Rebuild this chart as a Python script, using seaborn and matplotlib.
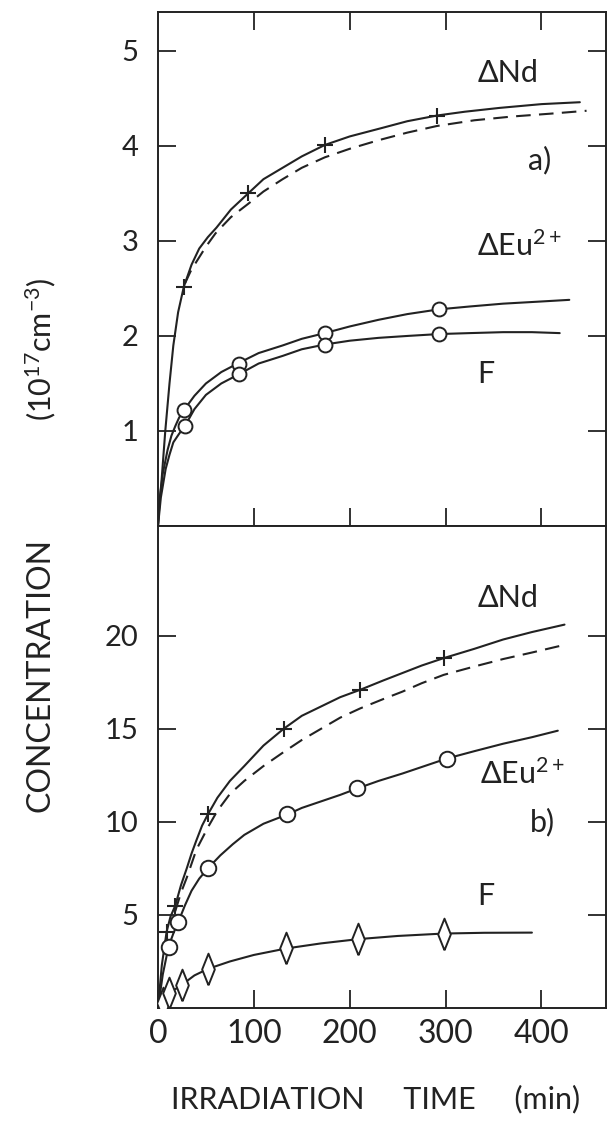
import matplotlib
matplotlib.use("Agg")
import matplotlib.pyplot as plt
import seaborn as sns

# ---- data ----
# panel a) measured points (time in min, concentration in 1e17 cm^-3)
a_nd_t = [27, 94, 174, 291]
a_nd_c = [2.52, 3.50, 4.01, 4.32]
a_eu_t = [27, 85, 174, 293]
a_eu_c = [1.22, 1.71, 2.03, 2.28]
a_f_t = [28, 85, 174, 293]
a_f_c = [1.05, 1.60, 1.91, 2.02]

# panel a) drawn curves
a_nd_line_t = [0, 1.5, 3.5, 7.6, 12, 16, 21, 27, 35, 43, 52, 61, 76, 94, 110, 130, 150, 174, 200, 234, 260, 291, 320, 356, 400, 440]
a_nd_line_c = [0, 0.25, 0.45, 1.0, 1.5, 1.9, 2.25, 2.52, 2.75, 2.92, 3.04, 3.14, 3.33, 3.50, 3.65, 3.77, 3.89, 4.01, 4.10, 4.19, 4.26, 4.32, 4.36, 4.40, 4.44, 4.46]
a_nd_dash_t = [28, 34, 40, 50, 60, 76, 94, 110, 130, 150, 174, 200, 230, 260, 291, 330, 370, 410, 447]
a_nd_dash_c = [2.55, 2.68, 2.78, 2.94, 3.08, 3.25, 3.39, 3.52, 3.65, 3.77, 3.88, 3.97, 4.06, 4.14, 4.21, 4.27, 4.31, 4.34, 4.37]
a_eu_line_t = [0, 2, 5, 10, 14, 18, 22, 27, 38, 50, 66, 85, 105, 130, 150, 174, 200, 230, 260, 293, 325, 360, 395, 429]
a_eu_line_c = [0, 0.3, 0.55, 0.8, 0.95, 1.05, 1.14, 1.22, 1.37, 1.5, 1.62, 1.72, 1.82, 1.9, 1.97, 2.03, 2.10, 2.17, 2.23, 2.28, 2.31, 2.34, 2.36, 2.38]
a_f_line_t = [0, 3, 8, 12, 16, 22, 28, 38, 50, 66, 85, 105, 130, 150, 174, 200, 230, 260, 293, 325, 360, 390, 419]
a_f_line_c = [0, 0.3, 0.6, 0.75, 0.88, 0.97, 1.05, 1.23, 1.38, 1.50, 1.60, 1.71, 1.79, 1.86, 1.91, 1.95, 1.98, 2.00, 2.02, 2.03, 2.04, 2.04, 2.03]

# panel b) measured points
b_nd_t = [9, 18, 52, 131, 211, 298]
b_nd_c = [4.1, 5.5, 10.4, 15.0, 17.1, 18.8]
b_eu_t = [11, 21, 52, 135, 208, 301]
b_eu_c = [3.3, 4.6, 7.5, 10.4, 11.8, 13.4]
b_f_t = [5, 12, 25, 52, 134, 209, 298]
b_f_c = [0.25, 0.8, 1.25, 2.1, 3.2, 3.7, 4.0]

# panel b) drawn curves
b_nd_line_t = [0, 4, 9, 13, 18, 24, 30, 35, 40, 46, 52, 62, 75, 90, 110, 131, 150, 170, 190, 211, 235, 255, 275, 298, 330, 360, 390, 424]
b_nd_line_c = [0, 2.3, 4.1, 4.9, 5.5, 6.6, 7.5, 8.3, 9.0, 9.8, 10.4, 11.3, 12.2, 13.0, 14.1, 15.0, 15.7, 16.2, 16.7, 17.1, 17.6, 18.0, 18.4, 18.8, 19.3, 19.8, 20.2, 20.6]
b_nd_dash_t = [18, 24, 30, 40, 52, 62, 75, 90, 110, 131, 150, 170, 190, 211, 235, 255, 275, 298, 330, 360, 390, 423]
b_nd_dash_c = [5.2, 6.2, 7.0, 8.5, 9.7, 10.6, 11.5, 12.2, 13.0, 13.75, 14.4, 15.0, 15.6, 16.1, 16.6, 17.0, 17.45, 17.9, 18.35, 18.75, 19.1, 19.5]
b_eu_line_t = [0, 5, 11, 16, 21, 28, 35, 43, 52, 65, 78, 90, 110, 135, 150, 170, 190, 208, 230, 255, 278, 301, 330, 360, 390, 417]
b_eu_line_c = [0, 1.8, 3.3, 4.0, 4.6, 5.5, 6.3, 6.95, 7.5, 8.2, 8.8, 9.3, 9.9, 10.4, 10.75, 11.1, 11.45, 11.8, 12.2, 12.6, 13.0, 13.4, 13.8, 14.2, 14.55, 14.9]
b_f_line_t = [0, 5, 12, 25, 38, 52, 75, 100, 134, 170, 209, 250, 298, 340, 390]
b_f_line_c = [0, 0.25, 0.8, 1.25, 1.75, 2.1, 2.5, 2.85, 3.2, 3.47, 3.7, 3.87, 4.0, 4.04, 4.05]

x_ticks = [0, 100, 200, 300, 400]
a_y_ticks = [1, 2, 3, 4, 5]
b_y_ticks = [5, 10, 15, 20]

# ---- style ----
sns.set_style("ticks")
plt.rcParams["font.family"] = ["Lato", "DejaVu Sans"]
plt.rcParams["font.weight"] = "normal"
plt.rcParams["axes.linewidth"] = 1.4
plt.rcParams["mathtext.fontset"] = "custom"
plt.rcParams["mathtext.rm"] = "Lato"
plt.rcParams["mathtext.it"] = "Lato"

ink = "#222222"
fig = plt.figure(figsize=(6.1, 11.28), dpi=100)
ax_a = fig.add_axes([0.259, 0.5337, 0.734, 0.4557])
ax_b = fig.add_axes([0.259, 0.1064, 0.734, 0.4273])

# tall narrow diamond like the hand-drawn F markers
diamond = [(0, -1), (0.4, 0), (0, 1), (-0.4, 0), (0, -1)]


def curve(ax, t, c, dashed=False):
    ls = (0, (7, 4)) if dashed else "-"
    sns.lineplot(x=t, y=c, ax=ax, sort=False, estimator=None, color=ink,
                 lw=1.5, linestyle=ls, zorder=2)


def points(ax, t, c, marker, size):
    if marker == "+":
        sns.scatterplot(x=t, y=c, ax=ax, marker="+", s=size, color=ink,
                        linewidth=1.5, zorder=3)
    else:
        sns.scatterplot(x=t, y=c, ax=ax, marker=marker, s=size, facecolor="white",
                        edgecolor=ink, linewidth=1.4, zorder=3)


# panel a)
curve(ax_a, a_nd_line_t, a_nd_line_c)
curve(ax_a, a_nd_dash_t, a_nd_dash_c, dashed=True)
curve(ax_a, a_eu_line_t, a_eu_line_c)
curve(ax_a, a_f_line_t, a_f_line_c)
points(ax_a, a_nd_t, a_nd_c, "+", 120)
points(ax_a, a_eu_t, a_eu_c, "o", 100)
points(ax_a, a_f_t, a_f_c, "o", 100)

# panel b)
curve(ax_b, b_nd_line_t, b_nd_line_c)
curve(ax_b, b_nd_dash_t, b_nd_dash_c, dashed=True)
curve(ax_b, b_eu_line_t, b_eu_line_c)
curve(ax_b, b_f_line_t, b_f_line_c)
points(ax_b, b_nd_t, b_nd_c, "+", 120)
points(ax_b, b_eu_t, b_eu_c, "o", 125)
points(ax_b, b_f_t, b_f_c, diamond, 520)

# axes limits / ticks
ax_a.set_xlim(0, 467)
ax_a.set_ylim(0, 5.41)
ax_b.set_xlim(0, 467)
ax_b.set_ylim(0, 25.9)

ax_a.set_xticks(x_ticks[1:])
ax_a.set_xticklabels([])
ax_a.set_yticks(a_y_ticks)
ax_a.set_yticklabels([str(v) for v in a_y_ticks])
ax_a.tick_params(direction="in", length=13, width=1.3, top=True, right=True,
                 labelsize=21, pad=14, colors=ink)

ax_b.set_xticks(x_ticks)
ax_b.set_xticklabels([str(v) for v in x_ticks])
ax_b.set_yticks(b_y_ticks)
ax_b.set_yticklabels([str(v) for v in b_y_ticks])
ax_b.tick_params(direction="in", length=13, width=1.3, top=False, right=True,
                 labelsize=21, pad=14, colors=ink)
ax_b.tick_params(axis="x", labelsize=23, pad=8)

for ax in (ax_a, ax_b):
    ax.set_xlabel("")
    ax.set_ylabel("")
    for sp in ax.spines.values():
        sp.set_visible(True)
        sp.set_color(ink)

# curve labels
lab = dict(fontsize=22, color=ink, va="center", ha="left")
ax_a.text(333, 4.77, "ΔNd", **lab)
ax_a.text(410, 3.85, "a)", fontsize=22, color=ink, va="center", ha="right")
ax_a.text(333, 2.95, "ΔEu$^{2+}$", **lab)
ax_a.text(333, 1.60, "F", **lab)

ax_b.text(333, 22.05, "ΔNd", **lab)
ax_b.text(336, 12.6, "ΔEu$^{2+}$", **lab)
ax_b.text(414, 10.0, "b)", fontsize=22, color=ink, va="center", ha="right")
ax_b.text(333, 6.0, "F", **lab)

# axis titles
fig.text(0.066, 0.402, "CONCENTRATION", rotation=90, fontsize=23,
         color=ink, ha="center", va="center")
fig.text(0.066, 0.69, "(10$^{17}$cm$^{-3}$)", rotation=90, fontsize=22,
         color=ink, ha="center", va="center")
fig.text(0.615, 0.026, "IRRADIATION     TIME     (min)", fontsize=22,
         color=ink, ha="center", va="center")

fig.savefig("out.png", dpi=100, facecolor="white")
